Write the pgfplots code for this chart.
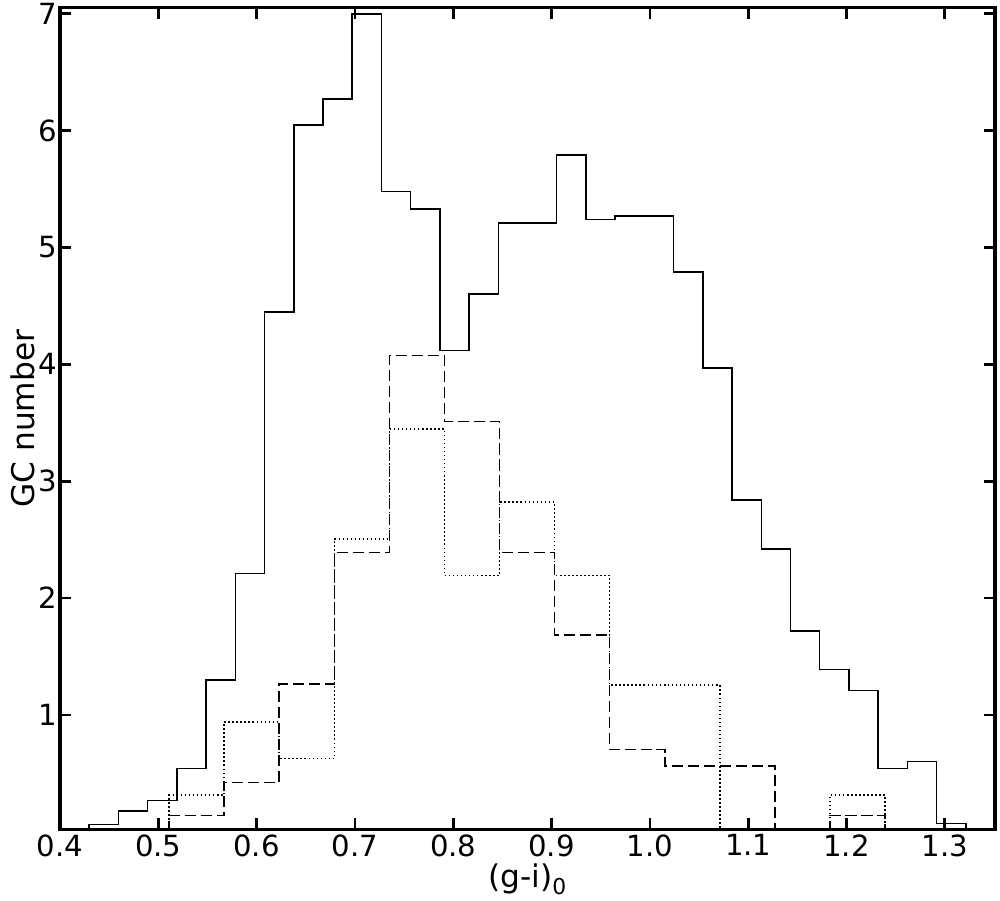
\documentclass[border=0pt]{standalone}
\usepackage{fontspec}
\setmainfont{DejaVu Sans}
\usepackage{pgfplots}
\pgfplotsset{compat=1.18}

\begin{document}
\begin{tikzpicture}
% page box: 1000x900 px at 0.72pt per px
\useasboundingbox (-43.2pt,-50.8pt) rectangle (676.8pt,597.2pt);
\begin{axis}[
  at={(0pt,0pt)}, anchor=south west,
  scale only axis, width=673.2pt, height=591.5pt,
  xmin=0.4, xmax=1.351, ymin=0.02, ymax=7.05,
  axis line style={line width=2.2pt},
  tick align=inside,
  major tick length=8pt,
  every tick/.style={black, line width=2pt},
  xtick={0.4,0.5,...,1.31},
  ytick={1,2,3,4,5,6,7},
  minor tick num=0,
  tick label style={font=\fontsize{21}{25}\selectfont},
  /pgf/number format/assume math mode=true,
  xticklabel style={/pgf/number format/.cd, fixed, fixed zerofill, precision=1},
  yticklabel style={xshift=1.5pt},
  label style={font=\fontsize{22.5}{27}\selectfont},
  xlabel={(g-i)\textsubscript{0}},
  ylabel={GC number},
  xlabel style={at={(axis description cs:0.5,-0.071)}, anchor=base},
  ylabel style={at={(axis description cs:-0.0278,0.5)}, anchor=base},
  every axis plot/.append style={black, line width=1.1pt, const plot, mark=none},
]
% full sample
\addplot[solid] coordinates {
(0.4000,0) (0.4000,0.024) (0.4297,0.062) (0.4594,0.18) (0.4892,0.267)
(0.5189,0.54) (0.5486,1.30) (0.5783,2.21) (0.6080,4.45) (0.6378,6.05)
(0.6675,6.27) (0.6972,7.00) (0.7269,5.48) (0.7566,5.33) (0.7864,4.12)
(0.8161,4.60) (0.8458,5.21) (0.8755,5.21) (0.9052,5.79) (0.9350,5.24)
(0.9647,5.27) (0.9944,5.27) (1.0241,4.79) (1.0538,3.97) (1.0836,2.84)
(1.1133,2.42) (1.1430,1.72) (1.1727,1.39) (1.2024,1.21) (1.2322,0.54)
(1.2619,0.60) (1.2916,0.07) (1.3213,0.07) (1.3213,0)
};
% dashed subsample
\addplot[dash pattern=on 8pt off 3.5pt] coordinates {
(0.5109,0) (0.5109,0.1405) (0.5669,0.4215) (0.6229,1.2645) (0.6790,2.3885)
(0.7350,4.0745) (0.7910,3.5125) (0.8470,2.3885) (0.9030,1.686) (0.9591,0.7025)
(1.0151,0.562) (1.0711,0.562) (1.1271,0) (1.1831,0.1405) (1.2392,0.1405) (1.2392,0)
};
% dotted subsample
\addplot[dash pattern=on 1.1pt off 1.8pt] coordinates {
(0.5109,0) (0.5109,0.3134) (0.5669,0.9402) (0.6229,0.6268) (0.6790,2.507)
(0.7350,3.447) (0.7910,2.194) (0.8470,2.821) (0.9030,2.194) (0.9591,1.254)
(1.0151,1.254) (1.0711,0) (1.1271,0) (1.1831,0.3134) (1.2392,0.3134) (1.2392,0)
};
\end{axis}
\end{tikzpicture}
\end{document}
